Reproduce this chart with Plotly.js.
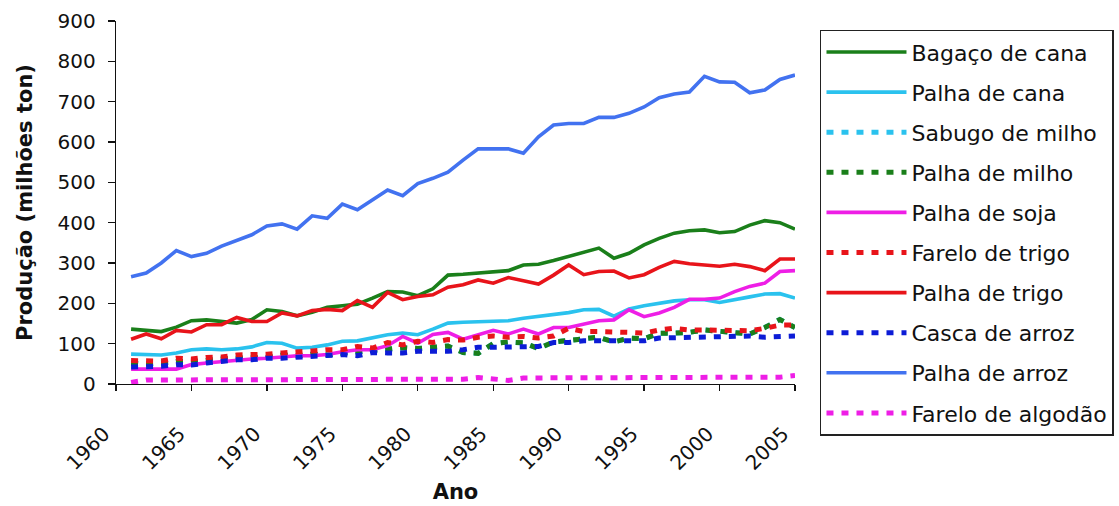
<!DOCTYPE html>
<html>
<head>
<meta charset="utf-8">
<script src="https://cdn.plot.ly/plotly-3.0.1.min.js"></script>
<style>
  html, body { margin: 0; padding: 0; background: #fff; }
  #chart { width: 1119px; height: 506px; }
</style>
</head>
<body>
<div id="chart"></div>
<script>
// Production of agricultural residues, 1961-2005 (million tonnes)
const years = [1961,1962,1963,1964,1965,1966,1967,1968,1969,1970,1971,1972,1973,1974,1975,
               1976,1977,1978,1979,1980,1981,1982,1983,1984,1985,1986,1987,1988,1989,1990,
               1991,1992,1993,1994,1995,1996,1997,1998,1999,2000,2001,2002,2003,2004,2005];

const bagacoCana = [136,132,130,141,157,159,156,151,160,184,180,169,178,190,194,
                    198,213,229,228,219,236,270,272,275,279,281,295,297,306,316,
                    326,337,312,324,345,361,374,380,382,375,378,394,405,400,384];

const palhaCana = [74,74,72,77,85,87,85,87,92,103,101,89,91,97,106,
                   107,114,122,126,122,136,151,153,155,156,157,163,167,171,177,
                   184,185,168,186,194,200,206,209,209,202,208,216,223,224,213];

const sabugoMilho = [52,50,52,56,55,60,62,64,64,66,72,70,74,72,76,
                     80,82,88,90,88,92,94,78,76,100,104,102,88,104,108,
                     114,116,104,114,112,126,126,128,134,130,128,124,140,160,140];

const palhaMilho = [52,50,52,56,55,60,62,64,64,66,72,70,74,72,76,
                    80,82,88,90,88,92,94,78,76,100,104,102,88,104,108,
                    114,116,104,114,112,126,126,128,134,130,128,124,140,160,140];

const palhaSoja = [37,38,37,37,48,52,56,60,62,64,67,70,70,73,80,
                   85,85,95,118,101,123,128,111,123,133,124,136,124,140,140,
                   149,157,159,184,167,176,190,210,210,213,229,242,250,279,281];

const fareloTrigo = [58,56,57,64,62,66,67,72,72,74,77,81,82,85,85,
                     93,89,103,97,106,103,110,109,116,119,116,118,114,119,138,
                     130,130,130,128,126,134,138,134,134,134,134,132,138,146,146];

const palhaTrigo = [111,124,112,133,129,147,147,165,155,155,176,169,182,185,182,
                    207,190,227,209,217,221,240,246,258,250,264,256,248,270,295,
                    271,279,280,263,271,289,304,298,295,292,297,291,281,310,310];

const cascaArroz = [42,42,44,48,47,52,56,60,60,64,64,67,70,73,73,
                    70,78,77,77,81,81,81,85,91,91,91,90,93,103,103,
                    107,107,107,107,107,114,115,115,118,119,119,119,116,119,119];

const palhaArroz = [266,275,300,331,316,324,342,357,370,392,397,384,417,411,446,
                    432,456,481,467,497,510,525,555,583,583,583,572,613,642,646,
                    646,661,661,671,687,710,719,724,763,749,748,722,729,755,766];

const fareloAlgodao = [4,10,10,10,10,10,11,11,11,11,11,11,11,11,10,
                       11,11,11,11,10,10,11,12,16,14,9,15,15,16,15,
                       15,15,15,15,15,15,15,15,15,15,15,15,16,17,21];

const xTicks = [1960,1965,1970,1975,1980,1985,1990,1995,2000,2005];

const GREEN = '#1a7f1a', CYAN = '#2ac2ee', MAGENTA = '#ee1ee6',
      RED = '#e8141a', DBLUE = '#0c1cd6', BLUE = '#4272f0';

const series = [
  { name: 'Bagaço de cana',    y: bagacoCana,    color: GREEN,   dashed: false },
  { name: 'Palha de cana',     y: palhaCana,     color: CYAN,    dashed: false },
  { name: 'Sabugo de milho',   y: sabugoMilho,   color: CYAN,    dashed: true  },
  { name: 'Palha de milho',    y: palhaMilho,    color: GREEN,   dashed: true  },
  { name: 'Palha de soja',     y: palhaSoja,     color: MAGENTA, dashed: false },
  { name: 'Farelo de trigo',   y: fareloTrigo,   color: RED,     dashed: true  },
  { name: 'Palha de trigo',    y: palhaTrigo,    color: RED,     dashed: false },
  { name: 'Casca de arroz',    y: cascaArroz,    color: DBLUE,   dashed: true  },
  { name: 'Palha de arroz',    y: palhaArroz,    color: BLUE,    dashed: false },
  { name: 'Farelo de algodão', y: fareloAlgodao, color: MAGENTA, dashed: true  }
];

const traces = series.map((s, i) => ({
  type: 'scatter',
  mode: 'lines',
  name: s.name,
  legendgroup: 'g' + i,
  x: years,
  y: s.y,
  line: s.dashed
    ? { color: s.color, width: 5, dash: '7px,8px' }
    : { color: s.color, width: 3.6 },
  hoverinfo: 'skip'
}));

const FONT = '"DejaVu Sans", Arial, sans-serif';

const layout = {
  width: 1119,
  height: 506,
  paper_bgcolor: '#ffffff',
  plot_bgcolor: '#ffffff',
  margin: { l: 116, r: 324, t: 21, b: 122, pad: 0, autoexpand: false },
  font: { family: FONT, color: '#111', size: 20 },
  showlegend: true,
  legend: {
    x: 1.0368, y: 0.976, xanchor: 'left', yanchor: 'top',
    bordercolor: '#222', borderwidth: 1.5, bgcolor: '#fff',
    font: { family: FONT, size: 22, color: '#111' },
    itemwidth: 80,
    tracegroupgap: 8.5,
    traceorder: 'grouped',
    maxheight: 1000
  },
  xaxis: {
    range: [1960, 2005],
    tickmode: 'array',
    tickvals: xTicks,
    ticktext: xTicks.map(String),
    tickangle: -45,
    ticks: 'outside', ticklen: 6, tickwidth: 1.3, tickcolor: '#111',
    ticklabelstandoff: 23,
    ticklabelshift: -12,
    showline: true, linecolor: '#111', linewidth: 1.3,
    showgrid: false, zeroline: false,
    tickfont: { family: FONT, size: 20, color: '#111' },
    title: { text: 'Ano', font: { family: FONT, size: 21, color: '#111', weight: 'bold' }, standoff: 10 }
  },
  yaxis: {
    range: [0, 900],
    dtick: 100,
    ticks: 'outside', ticklen: 7, tickwidth: 1.3, tickcolor: '#111',
    showline: true, linecolor: '#111', linewidth: 1.3,
    showgrid: false, zeroline: false,
    tickfont: { family: FONT, size: 20, color: '#111' },
    ticklabelstandoff: 8,
    title: { text: 'Produção (milhões ton)', font: { family: FONT, size: 21, color: '#111', weight: 'bold' }, standoff: 19 }
  }
};

Plotly.newPlot('chart', traces, layout, { staticPlot: true, displayModeBar: false });
</script>
</body>
</html>
